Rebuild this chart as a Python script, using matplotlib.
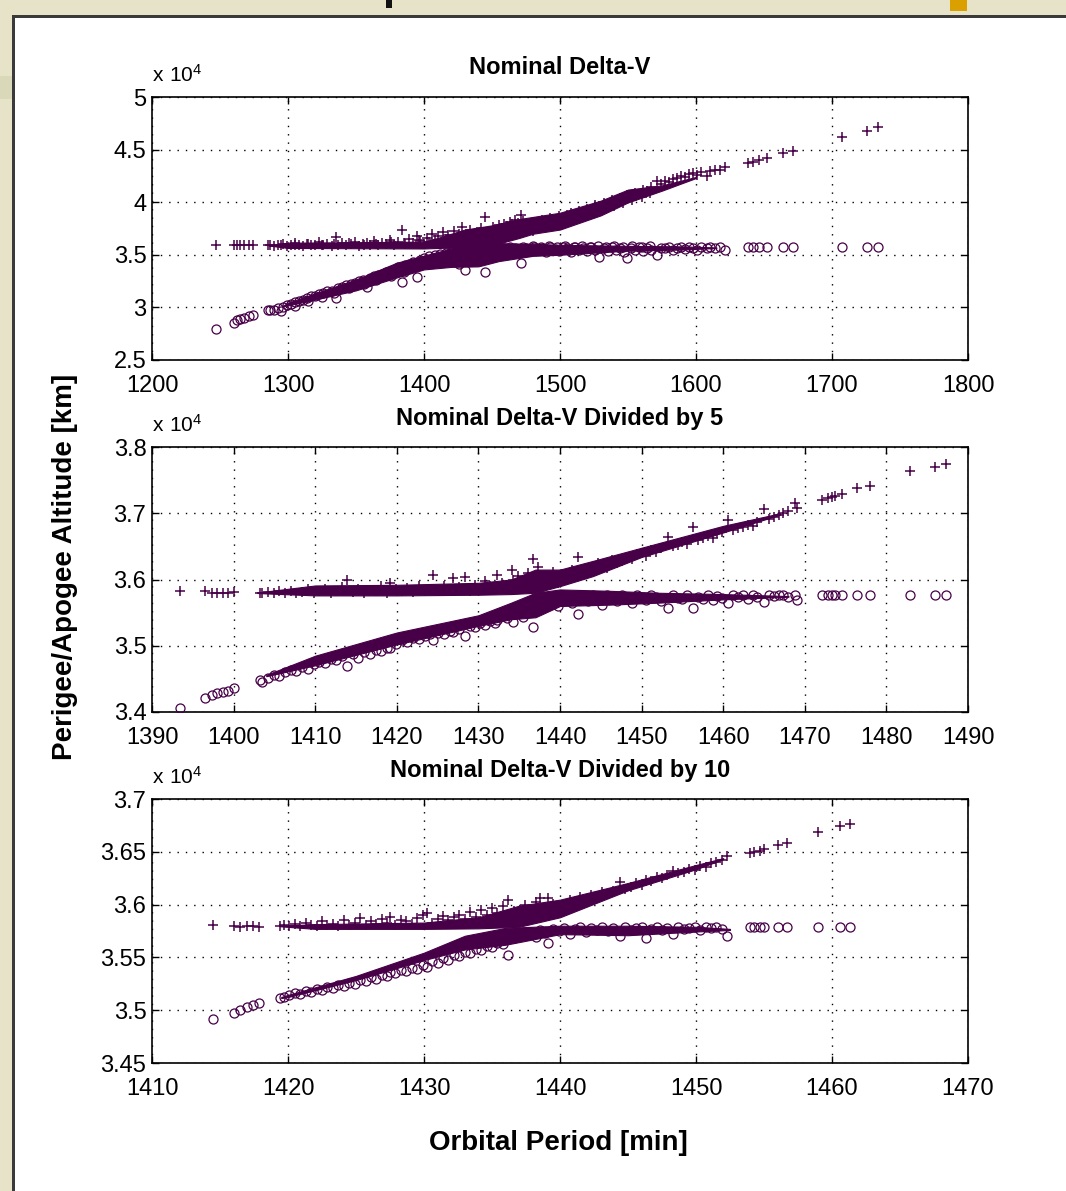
import matplotlib
matplotlib.use('Agg')
import matplotlib.pyplot as plt
from matplotlib.ticker import FuncFormatter, MultipleLocator
from matplotlib.transforms import offset_copy
from matplotlib.patches import Rectangle

# ---- data (period in min, altitudes in km) ----

# Nominal Delta-V
period_nom = [
    1247, 1260, 1262.5, 1265, 1268, 1271, 1274, 1285, 1287, 1290,
    1293, 1295, 1296, 1299, 1302, 1305, 1305.5, 1308, 1311, 1314,
    1315, 1317, 1320, 1323, 1325, 1326, 1329, 1332, 1334, 1335,
    1337, 1340, 1343, 1345, 1346, 1349, 1352, 1355, 1356, 1358,
    1360, 1363, 1365, 1366, 1369, 1372, 1375, 1376, 1378, 1381,
    1384, 1385, 1386, 1389, 1392, 1395, 1396, 1397, 1400, 1402,
    1404, 1406, 1408, 1410, 1412, 1414, 1416, 1418, 1420, 1422,
    1424, 1426, 1428, 1430, 1432, 1434, 1436, 1438, 1440, 1442,
    1444, 1445, 1447, 1449, 1451, 1453, 1455, 1457, 1459, 1461,
    1463, 1465, 1467, 1469, 1471, 1473, 1475, 1478, 1480, 1481,
    1484, 1486, 1487, 1490, 1492, 1493, 1496, 1498, 1499, 1502,
    1504, 1505, 1508, 1510, 1511, 1514, 1516, 1517, 1520, 1522,
    1523, 1526, 1528, 1529, 1532, 1534, 1535, 1538, 1540, 1541,
    1544, 1546, 1547, 1549, 1552, 1553, 1555, 1558, 1560, 1561,
    1564, 1566, 1567, 1571, 1574, 1577, 1580, 1583, 1586, 1589,
    1592, 1595, 1598, 1601, 1604, 1608, 1610, 1614, 1618, 1621,
    1638, 1642, 1646, 1652, 1664, 1671, 1707, 1726, 1734]
apogee_nom = [
    35930, 35900, 35950, 35900, 35920, 35950, 35900, 35950, 35900, 35850,
    35900, 35950, 36000, 35850, 35950, 36100, 35900, 35900, 35850, 36050,
    36000, 35950, 35900, 36200, 35900, 35900, 36000, 35850, 36050, 36700,
    35950, 36100, 35900, 36150, 36000, 36250, 35850, 36000, 35900, 36100,
    35950, 36300, 36000, 35900, 36100, 36000, 36400, 36200, 35950, 36200,
    37350, 36100, 36000, 36500, 36100, 36800, 36400, 36300, 36000, 36600,
    36200, 37000, 36400, 36800, 36000, 37200, 36500, 36900, 36200, 37300,
    36600, 37000, 37640, 36400, 36900, 37400, 36700, 37100, 36300, 37500,
    36800, 38600, 37200, 37000, 37600, 37300, 37800, 37500, 37900, 37700,
    38100, 37900, 38300, 38000, 38780, 38200, 37700, 37900, 37300, 38100,
    37900, 37600, 38300, 38100, 37800, 38500, 38300, 38000, 38700, 38500,
    38200, 38800, 39000, 38400, 38800, 39200, 38700, 39100, 39400, 38900,
    39300, 39700, 39200, 39600, 39900, 39500, 39800, 40200, 39600, 40000,
    40400, 39900, 40300, 40700, 40600, 40200, 40900, 40800, 40500, 41200,
    41100, 40900, 41400, 42000, 41700, 42000, 41900, 42200, 42300, 42500,
    42400, 42700, 42780, 42600, 42900, 42490, 43000, 43100, 43060, 43300,
    43700, 43800, 44000, 44200, 44680, 44870, 46200, 46770, 47150]
perigee_nom = [
    27950, 28500, 28800, 28900, 29000, 29150, 29300, 29750, 29800, 29800,
    29950, 29700, 30050, 30250, 30300, 30500, 30150, 30600, 30700, 30900,
    30600, 31050, 31100, 31300, 31000, 31400, 31550, 31600, 31350, 30900,
    31850, 31900, 32100, 31800, 32250, 32300, 32500, 32600, 32200, 31950,
    32800, 33000, 32600, 33100, 33200, 33400, 33500, 33000, 33600, 33800,
    32400, 33400, 34000, 34100, 34300, 32900, 34000, 34500, 34650, 34500,
    34900, 34200, 35000, 34700, 35100, 34300, 35200, 34800, 35300, 34500,
    35400, 34100, 35500, 33550, 35000, 35600, 34600, 35300, 35700, 34800,
    35400, 33370, 35600, 35100, 35700, 35300, 35800, 35000, 35600, 35400,
    35700, 35200, 35600, 35500, 34200, 35700, 35600, 35400, 35800, 35700,
    35500, 35750, 35650, 35300, 35800, 35700, 35550, 35750, 35400, 35700,
    35800, 35600, 35300, 35750, 35700, 35500, 35800, 35650, 35350, 35750,
    35700, 35500, 35800, 34790, 35650, 35750, 35400, 35700, 35800, 35500,
    35600, 35750, 35300, 34700, 35650, 35800, 35450, 35700, 35750, 35400,
    35650, 35800, 35500, 34980, 35650, 35600, 35700, 35500, 35650, 35700,
    35550, 35700, 35650, 35500, 35700, 35600, 35700, 35650, 35750, 35500,
    35740, 35700, 35740, 35720, 35740, 35720, 35740, 35740, 35740]
# where the cloud is so dense that it prints solid: (period, low, high)
nom_perigee_core = [(1296, 30100, 30150), (1300, 30190, 30450), (1320, 30750, 31350),
                    (1350, 31620, 32650), (1380, 32850, 34250), (1400, 33610, 34920),
                    (1420, 33850, 35600), (1440, 33900, 36100), (1455, 34400, 36100),
                    (1480, 34900, 36050), (1500, 35000, 35950), (1550, 35400, 35850),
                    (1590, 35500, 35800), (1615, 35650, 35700)]
nom_apogee_core = [(1286, 35880, 35920), (1300, 35650, 36150), (1400, 35600, 36250),
                   (1410, 35650, 36600), (1430, 35700, 37400), (1450, 35900, 37800),
                   (1470, 36600, 38400), (1480, 37000, 38600), (1500, 37400, 39000),
                   (1530, 38750, 40150), (1550, 39980, 41200), (1575, 41100, 41600),
                   (1600, 42300, 42400)]

# Nominal Delta-V divided by 5
period_div5 = [
    1393.4, 1396.5, 1397.4, 1398.0, 1398.7, 1399.3, 1400.0, 1403.2, 1403.5, 1404.2,
    1404.9, 1405.6, 1406.3, 1407.0, 1407.7, 1408.4, 1409.1, 1409.8, 1410.5, 1411.2,
    1411.9, 1412.6, 1413.3, 1413.9, 1414.6, 1415.3, 1416.0, 1416.7, 1417.4, 1418.1,
    1418.8, 1419.2, 1419.9, 1420.6, 1421.3, 1422.0, 1422.7, 1423.4, 1424.1, 1424.4,
    1425.1, 1425.8, 1426.5, 1426.9, 1427.6, 1428.4, 1429.0, 1429.6, 1430.2, 1430.8,
    1431.4, 1432.0, 1432.3, 1432.9, 1433.5, 1434.1, 1434.2, 1434.8, 1435.5, 1436.1,
    1436.7, 1436.7, 1437.3, 1437.9, 1438.5, 1439.1, 1439.7, 1440.3, 1440.9, 1441.5,
    1442.2, 1442.8, 1443.4, 1444.0, 1444.6, 1445.2, 1445.8, 1446.4, 1447.0, 1447.6,
    1448.2, 1448.8, 1449.4, 1450.0, 1450.6, 1451.2, 1451.8, 1452.4, 1453.2, 1453.8,
    1454.4, 1455.0, 1455.6, 1456.3, 1456.9, 1457.5, 1458.1, 1458.7, 1459.3, 1459.9,
    1460.6, 1461.2, 1461.8, 1462.4, 1463.0, 1463.6, 1464.2, 1465.0, 1465.6, 1466.2,
    1466.8, 1467.3, 1468.0, 1468.8, 1469.0, 1472.1, 1472.8, 1473.3, 1473.7, 1474.6,
    1476.4, 1478.0, 1482.9, 1486.0, 1487.3]
apogee_div5 = [
    35830, 35830, 35800, 35790, 35800, 35790, 35810, 35800, 35800, 35810,
    35800, 35820, 35790, 35830, 35800, 35810, 35850, 35800, 35820, 35860,
    35800, 35830, 35880, 35990, 35810, 35850, 35800, 35840, 35820, 35900,
    35800, 35950, 35850, 35820, 35870, 35810, 35900, 35830, 35860, 36070,
    35820, 35900, 35850, 36020, 35880, 36040, 35830, 35920, 35860, 35980,
    35900, 35850, 36070, 35950, 35880, 36140, 35990, 36050, 35920, 36100,
    36310, 35950, 36190, 36050, 35980, 36120, 35950, 36080, 36000, 36150,
    36340, 36100, 36180, 36140, 36250, 36200, 36170, 36300, 36250, 36280,
    36330, 36310, 36380, 36400, 36360, 36450, 36420, 36480, 36640, 36500,
    36520, 36560, 36540, 36790, 36600, 36620, 36650, 36630, 36700, 36720,
    36900, 36750, 36780, 36800, 36830, 36810, 36870, 37060, 36920, 36950,
    36970, 37000, 37030, 37150, 37080, 37200, 37230, 37250, 37260, 37290,
    37380, 37410, 37640, 37700, 37750]
perigee_div5 = [
    34060, 34210, 34260, 34290, 34300, 34320, 34360, 34480, 34460, 34510,
    34560, 34540, 34600, 34640, 34620, 34680, 34650, 34720, 34760, 34740,
    34800, 34780, 34840, 34700, 34870, 34820, 34900, 34880, 34940, 34920,
    34960, 34970, 35020, 35080, 35060, 35120, 35100, 35140, 35170, 35090,
    35200, 35180, 35230, 35210, 35260, 35150, 35300, 35280, 35340, 35310,
    35380, 35350, 35390, 35450, 35420, 35520, 35360, 35580, 35435, 35650,
    35290, 35700, 35620, 35750, 35680, 35720, 35600, 35760, 35700, 35650,
    35480, 35740, 35680, 35760, 35700, 35620, 35770, 35720, 35680, 35760,
    35700, 35640, 35760, 35720, 35690, 35770, 35730, 35680, 35570, 35760,
    35720, 35700, 35770, 35570, 35740, 35710, 35760, 35690, 35750, 35720,
    35650, 35770, 35730, 35760, 35700, 35770, 35740, 35660, 35770, 35750,
    35770, 35760, 35740, 35770, 35690, 35770, 35770, 35760, 35770, 35770,
    35770, 35770, 35770, 35770, 35770]
div5_perigee_core = [(1404, 34540, 34560), (1410, 34705, 34850), (1420, 35020, 35200),
                     (1430, 35300, 35460), (1434, 35400, 35650), (1437, 35430, 35800),
                     (1440, 35600, 35850), (1446, 35620, 35830), (1452, 35650, 35800),
                     (1460, 35700, 35780), (1468, 35740, 35750)]
div5_apogee_core = [(1403, 35795, 35805), (1410, 35760, 35910), (1420, 35760, 35920),
                    (1430, 35770, 35950), (1434, 35780, 36000), (1437, 35800, 36150),
                    (1440, 35900, 36150), (1444, 36050, 36280), (1450, 36340, 36480),
                    (1460, 36710, 36810), (1467, 36980, 37000)]

# Nominal Delta-V divided by 10
period_div10 = [
    1414.5, 1416.0, 1416.5, 1417.0, 1417.4, 1417.9, 1419.4, 1419.7, 1420.1, 1420.5,
    1420.9, 1421.3, 1421.7, 1422.1, 1422.5, 1422.9, 1423.3, 1423.7, 1424.1, 1424.5,
    1424.9, 1425.3, 1425.7, 1426.1, 1426.5, 1426.9, 1427.3, 1427.5, 1427.9, 1428.3,
    1428.7, 1429.1, 1429.5, 1429.9, 1430.2, 1430.6, 1431.0, 1431.4, 1431.8, 1432.2,
    1432.6, 1433.0, 1433.4, 1433.8, 1434.2, 1434.6, 1435.0, 1435.4, 1435.8, 1436.2,
    1436.6, 1437.0, 1437.4, 1437.8, 1438.2, 1438.5, 1438.9, 1439.1, 1439.5, 1439.9,
    1440.3, 1440.7, 1441.1, 1441.5, 1441.9, 1442.3, 1442.7, 1443.1, 1443.5, 1443.9,
    1444.4, 1444.8, 1445.2, 1445.6, 1446.0, 1446.3, 1446.7, 1447.1, 1447.5, 1447.9,
    1448.3, 1448.7, 1449.1, 1449.5, 1449.9, 1450.3, 1450.7, 1451.1, 1451.5, 1451.9,
    1452.3, 1454.0, 1454.3, 1454.7, 1455.0, 1456.0, 1456.7, 1459.0, 1460.6, 1461.3]
apogee_div10 = [
    35807, 35800, 35790, 35800, 35795, 35790, 35800, 35810, 35800, 35820,
    35800, 35830, 35810, 35800, 35840, 35810, 35820, 35800, 35850, 35810,
    35830, 35870, 35810, 35840, 35820, 35860, 35830, 35880, 35810, 35850,
    35840, 35820, 35870, 35900, 35920, 35830, 35860, 35890, 35850, 35880,
    35900, 35860, 35930, 35880, 35950, 35900, 35970, 35920, 35990, 36044,
    35940, 35900, 36000, 35950, 36020, 36060, 35980, 36060, 36010, 35960,
    36000, 36040, 36020, 36070, 36050, 36090, 36080, 36120, 36100, 36130,
    36210, 36150, 36170, 36200, 36190, 36230, 36220, 36260, 36250, 36280,
    36320, 36300, 36310, 36340, 36330, 36370, 36360, 36390, 36400, 36420,
    36460, 36490, 36500, 36510, 36530, 36560, 36580, 36690, 36740, 36760]
perigee_div10 = [
    34917, 34970, 35000, 35030, 35050, 35070, 35115, 35125, 35140, 35160,
    35150, 35180, 35170, 35200, 35190, 35220, 35210, 35240, 35230, 35260,
    35250, 35290, 35280, 35310, 35300, 35330, 35320, 35360, 35350, 35380,
    35370, 35400, 35390, 35430, 35410, 35470, 35450, 35490, 35480, 35520,
    35510, 35550, 35540, 35580, 35570, 35610, 35600, 35640, 35630, 35520,
    35680, 35700, 35720, 35740, 35690, 35760, 35730, 35640, 35770, 35750,
    35780, 35720, 35770, 35790, 35740, 35780, 35760, 35790, 35750, 35780,
    35700, 35790, 35760, 35780, 35790, 35680, 35770, 35790, 35760, 35780,
    35720, 35790, 35770, 35780, 35790, 35760, 35790, 35780, 35790, 35770,
    35700, 35790, 35790, 35790, 35790, 35790, 35790, 35790, 35790, 35790]
div10_perigee_core = [(1419.5, 35115, 35125), (1420, 35125, 35145), (1425, 35285, 35325),
                      (1430, 35475, 35545), (1433, 35575, 35705), (1436, 35620, 35780),
                      (1440, 35720, 35800), (1445, 35710, 35800), (1450, 35745, 35790),
                      (1452.5, 35760, 35770)]
div10_apogee_core = [(1419.4, 35795, 35800), (1422, 35770, 35815), (1430, 35770, 35830),
                     (1434, 35775, 35880), (1437, 35790, 35990), (1440, 35880, 36047),
                     (1445, 36135, 36205), (1450, 36335, 36375), (1452, 36430, 36440)]

titles = ['Nominal Delta-V', 'Nominal Delta-V Divided by 5',
          'Nominal Delta-V Divided by 10']

# ---- figure ----
W, H = 1066, 1191
purple = '#470047'
plt.rcParams['font.family'] = ['Liberation Sans', 'DejaVu Sans']
plt.rcParams['mathtext.fontset'] = 'custom'
plt.rcParams['mathtext.rm'] = 'Liberation Sans'

fig = plt.figure(figsize=(W / 100, H / 100), dpi=100, facecolor='white')


def px_rect(x, y, w, h, color):
    # rectangle given in pixels from top-left
    fig.add_artist(Rectangle((x / W, 1 - (y + h) / H), w / W, h / H,
                             transform=fig.transFigure, color=color,
                             lw=0, zorder=0))


# window chrome round the figure
px_rect(0, 0, W, 15, '#e6e3c9')
px_rect(0, 0, 12, H, '#e6e3c9')
px_rect(0, 76, 12, 23, '#d9d8b8')
px_rect(950, 0, 17, 11, '#d9a000')
px_rect(386, 0, 6, 8, '#111111')
px_rect(12, 15, W - 12, 3, '#3a3a3a')
px_rect(12, 15, 3, H - 15, '#3a3a3a')

# axes boxes in pixels: left, top, right, bottom
boxes = [(152, 97, 968, 360), (152, 447, 968, 712), (152, 799, 968, 1063)]
panels = [
    (period_nom, apogee_nom, perigee_nom, (1200, 1800), 100, (25000, 50000), 5000,
     [nom_perigee_core, nom_apogee_core]),
    (period_div5, apogee_div5, perigee_div5, (1390, 1490), 10, (34000, 38000), 1000,
     [div5_perigee_core, div5_apogee_core]),
    (period_div10, apogee_div10, perigee_div10, (1410, 1470), 10, (34500, 37000), 500,
     [div10_perigee_core, div10_apogee_core]),
]

yfmt = FuncFormatter(lambda v, pos: f'{v / 1e4:g}')

for (l, t, r, b), (T, A, P, xl, xs, yl, ys, cores), title in zip(boxes, panels, titles):
    ax = fig.add_axes([l / W, 1 - b / H, (r - l) / W, (b - t) / H])
    for core in cores:
        ax.fill_between([c[0] for c in core], [c[1] for c in core],
                        [c[2] for c in core], color=purple, lw=0.8,
                        edgecolor=purple, zorder=2)
    ax.plot(T, A, ls='none', marker='+', ms=7.5, mew=1.1, color=purple, zorder=3)
    ax.plot(T, P, ls='none', marker='o', ms=6.5, mfc='none', mew=0.9,
            color=purple, zorder=3)
    ax.set_xlim(xl)
    ax.set_ylim(yl)
    ax.xaxis.set_major_locator(MultipleLocator(xs))
    ax.yaxis.set_major_locator(MultipleLocator(ys))
    ax.yaxis.set_major_formatter(yfmt)
    ax.set_axisbelow(True)
    ax.grid(True, color='black', lw=1.0, ls=(0, (1, 5)))
    ax.tick_params(direction='in', length=5, width=1, top=True, right=True,
                   labelsize=17, pad=4, colors='black')
    ax.tick_params(axis='x', pad=11)
    for sp in ax.spines.values():
        sp.set_linewidth(1.2)
    ax.text(0.5, 1, title, transform=offset_copy(ax.transAxes, fig, y=29,
            units='dots'), ha='center', va='center', fontsize=17,
            fontweight='bold')
    ax.text(0, 1, r'$\mathregular{x\ 10^{4}}$',
            transform=offset_copy(ax.transAxes, fig, y=22, units='dots'),
            ha='left', va='center', fontsize=15)

fig.text(65 / W, 1 - 567 / H, 'Perigee/Apogee Altitude [km]', rotation=90,
         ha='center', va='center', fontsize=20, fontweight='bold')
fig.text(558 / W, 1 - 1143 / H, 'Orbital Period [min]',
         ha='center', va='center', fontsize=20, fontweight='bold')

fig.savefig('out.png', dpi=100, facecolor='white')
